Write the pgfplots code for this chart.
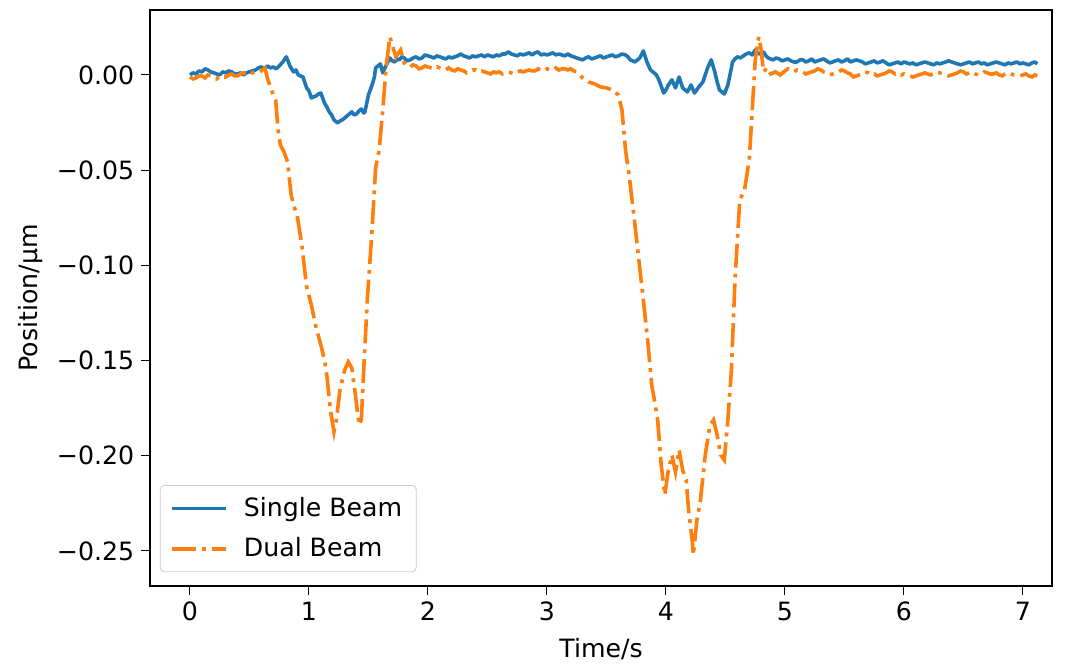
\documentclass[border=0pt]{standalone}
\usepackage{pgfplots}
\pgfplotsset{compat=1.18}
\usepackage{fontspec}
\setmainfont{DejaVu Sans}
\definecolor{tabblue}{HTML}{1F77B4}
\definecolor{taborange}{HTML}{FF7F0E}
\newcommand{\fs}{\fontsize{12.6pt}{15pt}\selectfont}
\begin{document}
\begin{tikzpicture}[font=\fs]
\begin{axis}[
  scale only axis,
  width=451pt, height=288pt,
  xmin=-0.336, xmax=7.244,
  ymin=-0.2684, ymax=0.0341,
  xtick={0,1,2,3,4,5,6,7},
  xticklabels={0,1,2,3,4,5,6,7},
  ytick={-0.25,-0.2,-0.15,-0.1,-0.05,0},
  yticklabels={−0.25,−0.20,−0.15,−0.10,−0.05,0.00},
  tick align=outside,
  major tick length=4.4pt,
  tick style={black, line width=0.5pt},
  xtick pos=bottom, ytick pos=left,
  axis line style={line width=0.6pt},
  tick label style={font=\fs},
  label style={font=\fs},
  xlabel={Time/s},
  xlabel style={yshift=-2pt},
  ylabel={Position/µm},
  legend cell align=left,
  legend style={at={(0.011,0.024)}, anchor=south west, draw=black!20,
    rounded corners=2pt, fill=white, fill opacity=0.8, text opacity=1,
    font=\fs, row sep=5pt, inner xsep=5pt, inner ysep=4pt,
    /tikz/every odd column/.append style={column sep=6pt}},
  legend image code/.code={\draw[#1] (0pt,0pt) -- (27pt,0pt);},
]
\addplot[tabblue, line width=1.8pt, line join=round] coordinates {
(0.00,0.0000)(0.025,0.0011)(0.05,0.0005)(0.075,0.0021)(0.10,0.0016)(0.125,0.0032)(0.15,0.0026)(0.175,0.0016)(0.20,0.0011)(0.225,0.0005)(0.25,0.0000)
(0.275,0.0016)(0.30,0.0011)(0.325,0.0021)(0.35,0.0016)(0.375,0.0005)(0.40,0.0005)(0.425,0.0011)(0.45,0.0000)(0.475,0.0011)(0.50,0.0016)(0.525,0.0021)(0.55,0.0026)
(0.575,0.0037)(0.60,0.0042)(0.625,0.0032)(0.65,0.0047)(0.675,0.0037)(0.70,0.0042)(0.725,0.0032)(0.75,0.0047)(0.78,0.0068)(0.81,0.0095)
(0.84,0.0047)(0.87,0.0016)(0.89,0.0026)(0.91,0.0000)(0.95,-0.0011)(0.98,-0.0068)(1.00,-0.0084)(1.02,-0.0121)
(1.04,-0.0115)(1.06,-0.0110)(1.08,-0.0100)(1.10,-0.0095)(1.13,-0.0147)(1.15,-0.0168)(1.17,-0.0194)(1.19,-0.0210)(1.21,-0.0236)(1.24,-0.0252)
(1.26,-0.0242)(1.28,-0.0236)(1.30,-0.0226)(1.32,-0.0215)(1.34,-0.0205)(1.36,-0.0194)(1.38,-0.0210)(1.40,-0.0205)(1.42,-0.0189)(1.44,-0.0179)(1.46,-0.0200)(1.47,-0.0194)
(1.50,-0.0105)(1.53,-0.0053)(1.55,-0.0011)(1.56,0.0037)(1.58,0.0047)(1.60,0.0058)(1.62,0.0011)(1.65,0.0053)
(1.68,0.0089)(1.70,0.0074)(1.72,0.0068)(1.74,0.0084)(1.76,0.0079)(1.78,0.0095)(1.80,0.0089)(1.825,0.0074)(1.85,0.0079)(1.875,0.0089)(1.90,0.0095)
(1.925,0.0084)(1.95,0.0089)(1.975,0.0105)(2.00,0.0100)(2.025,0.0095)(2.05,0.0089)(2.075,0.0100)(2.10,0.0095)(2.125,0.0089)(2.15,0.0084)(2.175,0.0095)(2.20,0.0089)
(2.225,0.0095)(2.25,0.0100)(2.275,0.0110)(2.30,0.0100)(2.325,0.0095)(2.35,0.0089)(2.375,0.0100)(2.40,0.0095)(2.425,0.0100)(2.45,0.0105)(2.475,0.0095)(2.50,0.0105)
(2.525,0.0100)(2.55,0.0095)(2.575,0.0105)(2.60,0.0100)(2.625,0.0110)(2.65,0.0110)(2.675,0.0121)(2.70,0.0110)(2.725,0.0105)(2.75,0.0100)(2.775,0.0110)(2.80,0.0105)
(2.825,0.0110)(2.85,0.0116)(2.875,0.0105)(2.90,0.0116)(2.925,0.0121)(2.95,0.0105)(2.975,0.0110)(3.00,0.0105)(3.025,0.0110)(3.05,0.0116)(3.075,0.0105)(3.10,0.0110)
(3.125,0.0105)(3.15,0.0100)(3.175,0.0110)(3.20,0.0100)(3.225,0.0095)(3.25,0.0089)(3.275,0.0084)(3.30,0.0079)(3.325,0.0089)(3.35,0.0095)(3.375,0.0084)(3.40,0.0089)
(3.425,0.0095)(3.45,0.0100)(3.475,0.0089)(3.50,0.0095)(3.525,0.0100)(3.55,0.0105)(3.575,0.0095)(3.60,0.0100)(3.63,0.0110)(3.66,0.0105)(3.68,0.0095)(3.70,0.0079)
(3.72,0.0074)(3.74,0.0068)(3.76,0.0079)(3.78,0.0089)(3.81,0.0126)(3.84,0.0068)(3.87,0.0026)(3.90,0.0011)(3.92,0.0000)
(3.94,-0.0026)(3.96,-0.0058)(3.98,-0.0095)(4.00,-0.0079)(4.02,-0.0053)(4.05,-0.0026)(4.08,-0.0068)(4.11,-0.0011)
(4.14,-0.0068)(4.16,-0.0079)(4.18,-0.0089)(4.21,-0.0053)(4.24,-0.0095)(4.27,-0.0068)(4.31,-0.0037)
(4.35,0.0037)(4.38,0.0079)(4.41,0.0016)(4.43,-0.0037)(4.45,-0.0079)(4.49,-0.0100)(4.52,-0.0053)
(4.56,0.0068)(4.58,0.0084)(4.60,0.0095)(4.625,0.0089)(4.65,0.0100)(4.675,0.0110)(4.70,0.0116)(4.725,0.0105)(4.75,0.0131)(4.78,0.0110)
(4.82,0.0121)(4.84,0.0100)(4.86,0.0089)(4.88,0.0084)(4.90,0.0079)(4.925,0.0089)(4.95,0.0084)(4.975,0.0074)(5.00,0.0079)(5.025,0.0084)(5.05,0.0074)(5.075,0.0068)
(5.10,0.0068)(5.125,0.0079)(5.15,0.0079)(5.175,0.0068)(5.20,0.0074)(5.225,0.0084)(5.25,0.0068)(5.275,0.0074)(5.30,0.0079)(5.325,0.0084)(5.35,0.0074)(5.375,0.0063)
(5.40,0.0068)(5.425,0.0074)(5.45,0.0079)(5.475,0.0068)(5.50,0.0074)(5.525,0.0084)(5.55,0.0068)(5.575,0.0074)(5.60,0.0079)(5.625,0.0074)(5.65,0.0068)(5.675,0.0058)
(5.70,0.0063)(5.725,0.0068)(5.75,0.0074)(5.775,0.0063)(5.80,0.0068)(5.825,0.0074)(5.85,0.0063)(5.875,0.0053)(5.90,0.0058)(5.925,0.0063)(5.95,0.0068)(5.975,0.0058)
(6.00,0.0068)(6.025,0.0063)(6.05,0.0058)(6.075,0.0063)(6.10,0.0053)(6.125,0.0058)(6.15,0.0063)(6.175,0.0068)(6.20,0.0063)(6.225,0.0058)(6.25,0.0053)(6.275,0.0063)
(6.30,0.0058)(6.325,0.0063)(6.35,0.0068)(6.375,0.0074)(6.40,0.0068)(6.425,0.0063)(6.45,0.0058)(6.475,0.0053)(6.50,0.0058)(6.525,0.0063)(6.55,0.0068)(6.575,0.0058)
(6.60,0.0063)(6.625,0.0068)(6.65,0.0058)(6.675,0.0063)(6.70,0.0053)(6.725,0.0058)(6.75,0.0063)(6.775,0.0068)(6.80,0.0063)(6.825,0.0058)(6.85,0.0053)(6.875,0.0063)
(6.90,0.0058)(6.925,0.0063)(6.95,0.0068)(6.975,0.0058)(7.00,0.0063)(7.025,0.0058)(7.05,0.0053)(7.075,0.0063)(7.10,0.0068)(7.12,0.0058)
};
\addlegendentry{Single Beam}
\addplot[taborange, line width=1.8pt, dash pattern=on 12pt off 3pt on 1.9pt off 3pt] coordinates {
(0.00,-0.0011)(0.025,-0.0021)(0.05,-0.0016)(0.075,-0.0005)(0.10,-0.0005)(0.125,-0.0016)(0.15,0.0000)(0.175,-0.0005)(0.20,-0.0016)(0.225,-0.0021)(0.25,-0.0005)
(0.275,-0.0011)(0.30,-0.0011)(0.325,0.0000)(0.35,0.0005)(0.375,-0.0005)(0.40,-0.0005)(0.425,0.0005)(0.45,0.0011)(0.475,0.0000)(0.50,0.0005)(0.525,0.0011)(0.55,0.0016)
(0.575,0.0011)(0.60,0.0021)(0.63,0.0037)(0.65,-0.0016)(0.67,-0.0053)(0.70,-0.0105)(0.72,-0.0131)
(0.74,-0.0289)(0.76,-0.0368)(0.79,-0.0404)(0.82,-0.0457)(0.85,-0.0630)(0.87,-0.0683)
(0.90,-0.0735)(0.94,-0.0893)(0.98,-0.1113)(1.02,-0.1208)(1.06,-0.1329)(1.10,-0.1418)
(1.13,-0.1497)(1.15,-0.1576)(1.18,-0.1759)(1.21,-0.1875)(1.23,-0.1812)(1.26,-0.1654)
(1.30,-0.1549)(1.33,-0.1507)(1.36,-0.1539)(1.39,-0.1681)(1.42,-0.1838)(1.44,-0.1812)
(1.46,-0.1549)(1.49,-0.1182)(1.53,-0.0814)(1.56,-0.0488)(1.59,-0.0394)(1.62,-0.0184)
(1.65,0.0053)(1.68,0.0200)(1.70,0.0158)(1.73,0.0095)(1.77,0.0131)(1.80,0.0063)
(1.825,0.0047)(1.85,0.0042)(1.875,0.0053)(1.90,0.0047)(1.925,0.0032)(1.95,0.0037)(1.975,0.0047)(2.00,0.0042)(2.025,0.0037)(2.05,0.0032)(2.075,0.0042)(2.10,0.0037)
(2.125,0.0032)(2.15,0.0026)(2.175,0.0037)(2.20,0.0026)(2.225,0.0021)(2.25,0.0032)(2.275,0.0026)(2.30,0.0021)(2.325,0.0011)(2.35,0.0016)(2.375,0.0026)(2.40,0.0026)
(2.425,0.0016)(2.45,0.0021)(2.475,0.0016)(2.50,0.0011)(2.525,0.0005)(2.55,0.0016)(2.575,0.0011)(2.60,0.0016)(2.625,0.0005)(2.65,0.0011)(2.675,0.0016)(2.70,0.0011)
(2.725,0.0005)(2.75,0.0016)(2.775,0.0021)(2.80,0.0016)(2.825,0.0021)(2.85,0.0026)(2.875,0.0021)(2.90,0.0021)(2.925,0.0032)(2.95,0.0026)(2.975,0.0021)(3.00,0.0032)
(3.025,0.0026)(3.05,0.0026)(3.075,0.0037)(3.10,0.0026)(3.125,0.0032)(3.15,0.0032)(3.175,0.0026)(3.20,0.0032)(3.225,0.0021)(3.25,0.0016)(3.275,0.0000)(3.30,-0.0016)
(3.35,-0.0037)(3.40,-0.0047)(3.45,-0.0063)(3.50,-0.0068)(3.55,-0.0079)(3.60,-0.0105)
(3.63,-0.0184)(3.66,-0.0394)(3.69,-0.0525)(3.73,-0.0735)(3.77,-0.0961)(3.81,-0.1182)
(3.85,-0.1418)(3.88,-0.1628)(3.91,-0.1733)(3.93,-0.1812)(3.96,-0.2048)(3.99,-0.2206)
(4.02,-0.2075)(4.05,-0.1996)(4.08,-0.2085)(4.11,-0.1969)(4.14,-0.2075)(4.17,-0.2127)
(4.19,-0.2285)(4.22,-0.2442)(4.23,-0.2521)(4.26,-0.2337)(4.29,-0.2232)(4.33,-0.1996)
(4.37,-0.1838)(4.40,-0.1812)(4.43,-0.1891)(4.46,-0.1996)(4.49,-0.2022)(4.52,-0.1812)
(4.55,-0.1549)(4.58,-0.1076)(4.62,-0.0657)(4.66,-0.0604)(4.70,-0.0446)(4.73,-0.0131)
(4.75,0.0079)(4.78,0.0200)(4.80,0.0131)(4.82,0.0016)(4.85,0.0037)(4.88,0.0005)
(4.92,0.0016)(4.96,0.0000)(5.00,0.0021)(5.025,0.0032)(5.05,0.0026)(5.075,0.0016)(5.10,0.0026)(5.125,0.0021)(5.15,0.0016)(5.175,0.0005)
(5.20,0.0011)(5.225,0.0016)(5.25,0.0021)(5.275,0.0032)(5.30,0.0026)(5.325,0.0016)(5.35,0.0011)(5.375,0.0000)(5.40,0.0005)(5.425,0.0011)(5.45,0.0016)(5.475,0.0026)
(5.50,0.0021)(5.525,0.0011)(5.55,0.0005)(5.575,-0.0011)(5.60,-0.0005)(5.625,0.0000)(5.65,0.0005)(5.675,0.0016)(5.70,0.0011)(5.725,0.0000)(5.75,0.0005)(5.775,-0.0005)
(5.80,0.0000)(5.825,0.0005)(5.85,0.0011)(5.875,0.0021)(5.90,0.0016)(5.925,0.0005)(5.95,0.0011)(5.975,0.0000)(6.00,0.0005)(6.025,0.0000)(6.05,-0.0005)(6.075,-0.0011)
(6.10,-0.0005)(6.125,0.0000)(6.15,0.0005)(6.175,0.0011)(6.20,0.0005)(6.225,0.0000)(6.25,0.0011)(6.275,0.0016)(6.30,0.0011)(6.325,0.0005)(6.35,0.0000)(6.375,-0.0005)
(6.40,0.0000)(6.425,0.0005)(6.45,0.0011)(6.475,0.0021)(6.50,0.0016)(6.525,0.0005)(6.55,0.0011)(6.575,0.0016)(6.60,0.0005)(6.625,0.0000)(6.65,0.0005)(6.675,0.0016)
(6.70,0.0011)(6.725,0.0005)(6.75,0.0005)(6.775,0.0011)(6.80,0.0000)(6.825,-0.0005)(6.85,0.0005)(6.875,0.0011)(6.90,0.0005)(6.925,0.0000)(6.95,0.0000)(6.975,-0.0005)
(7.00,0.0000)(7.025,0.0005)(7.05,-0.0005)(7.075,-0.0011)(7.10,0.0000)(7.12,-0.0005)
};
\addlegendentry{Dual Beam}
\end{axis}
\pgfresetboundingbox
\path[use as bounding box] ([shift={(-75pt,-39pt)}]current axis.south west) rectangle ([shift={(9pt,5pt)}]current axis.north east);
\end{tikzpicture}
\end{document}
